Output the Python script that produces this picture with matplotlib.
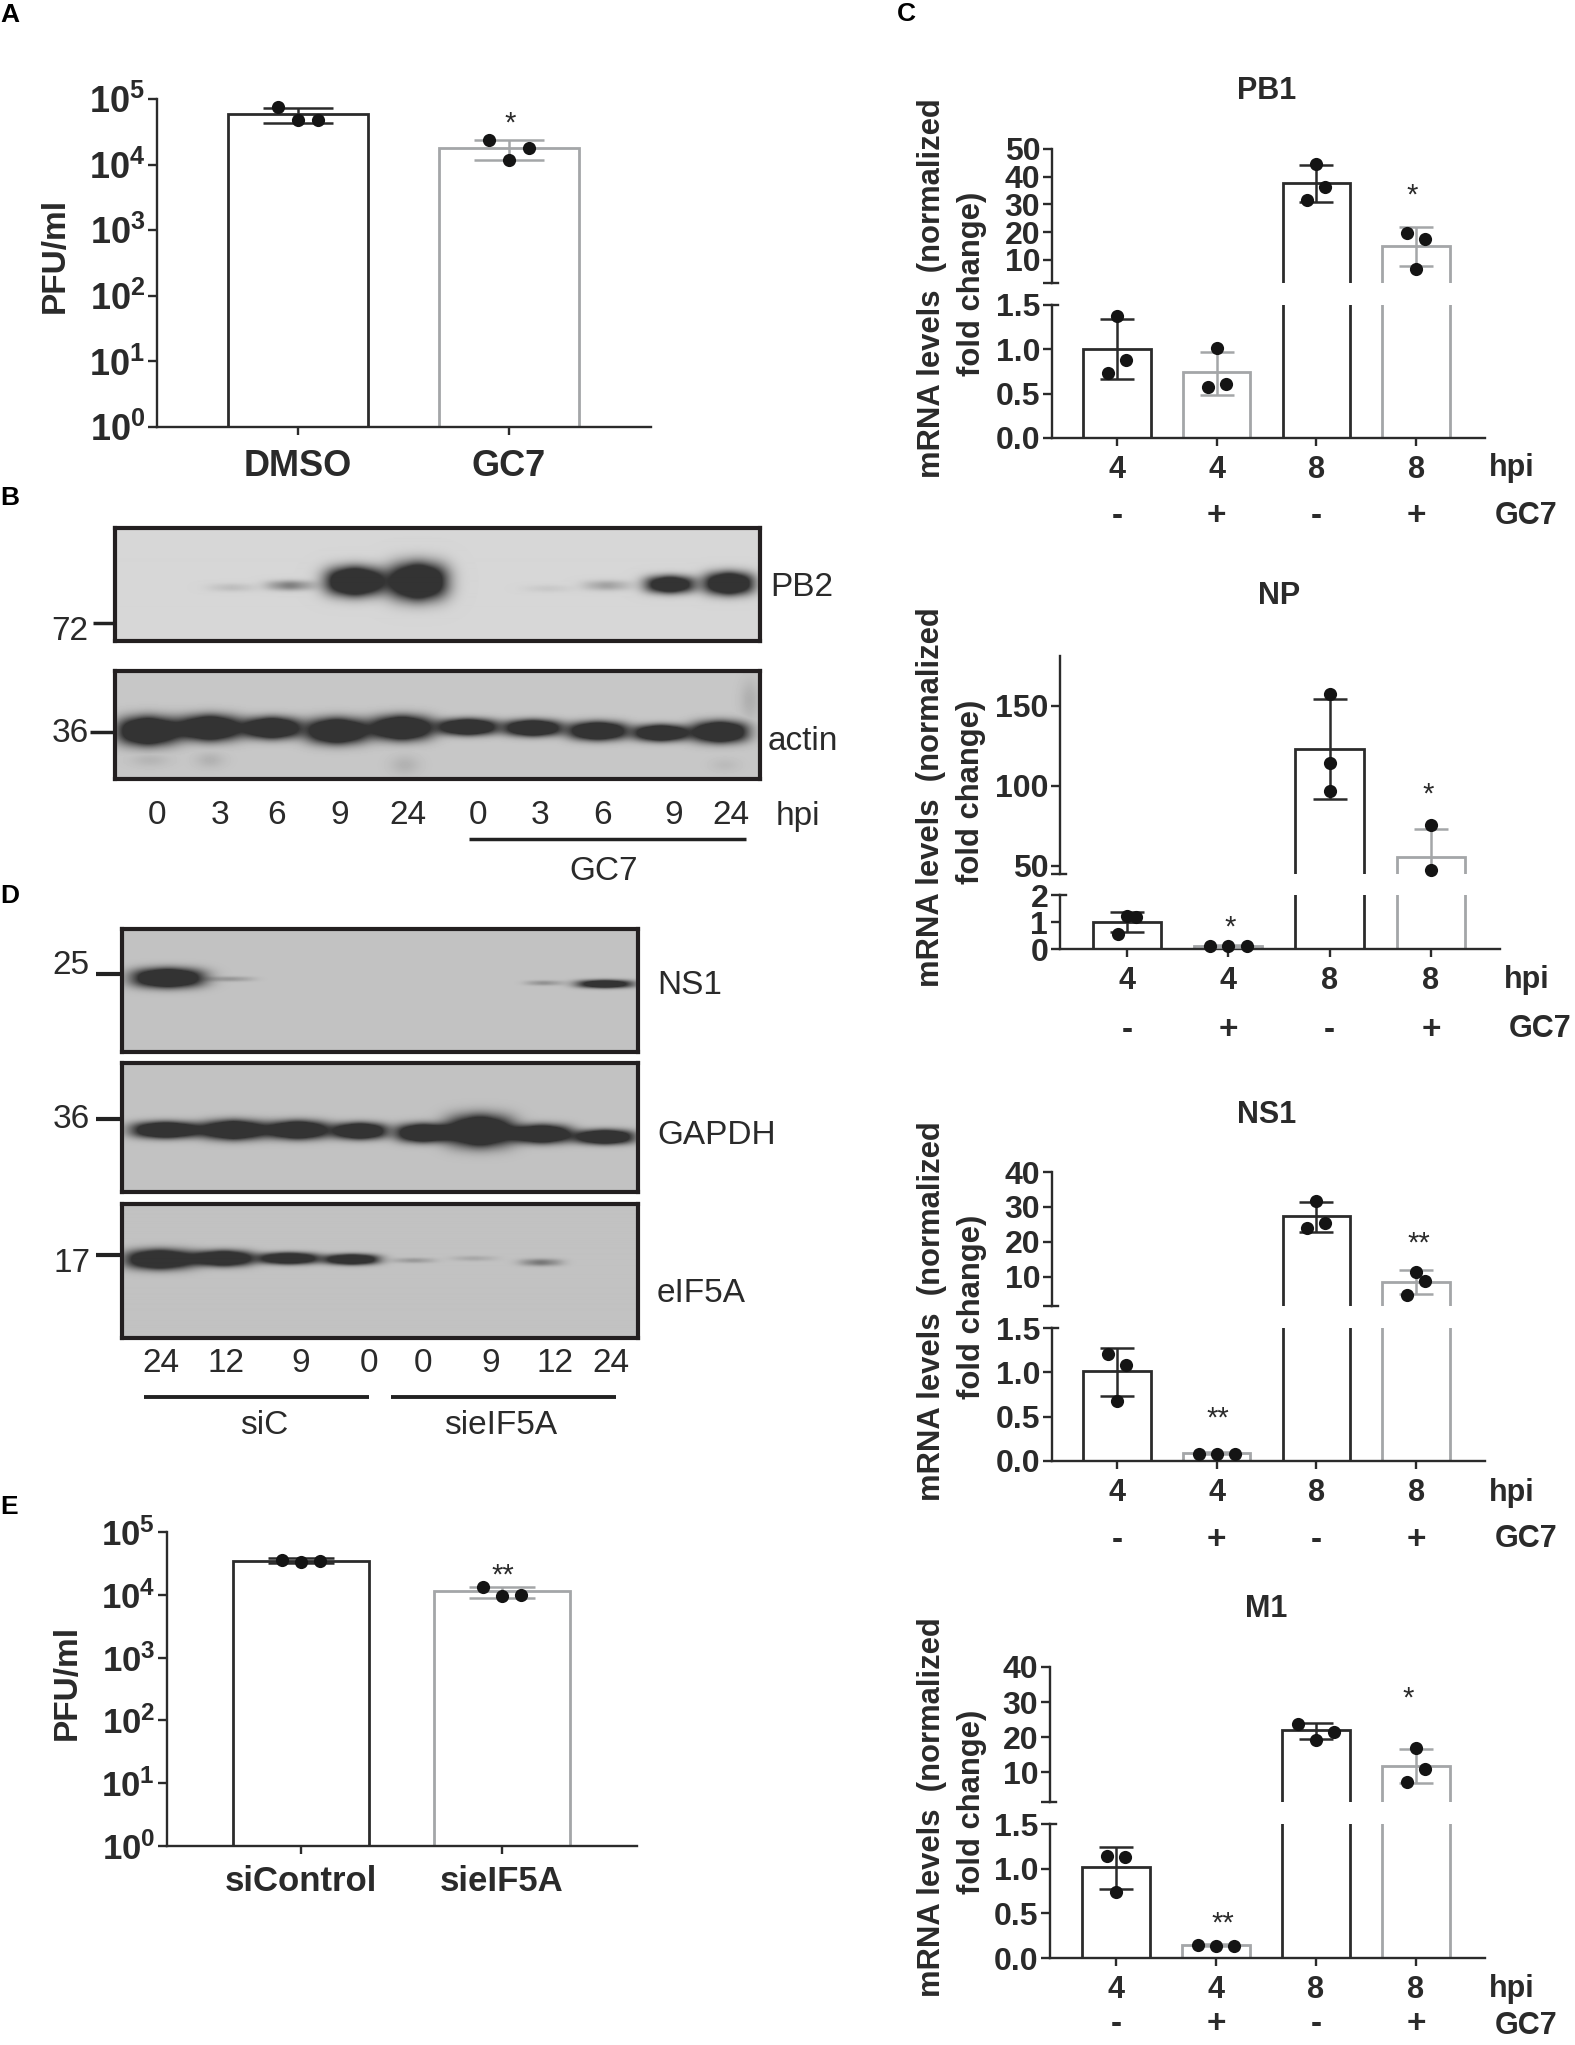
import matplotlib
matplotlib.use("Agg")
import matplotlib.pyplot as plt
import numpy as np

plt.rcParams["font.family"] = ["Liberation Sans", "DejaVu Sans"]
plt.rcParams["mathtext.fontset"] = "custom"
plt.rcParams["mathtext.bf"] = "Liberation Sans:bold"
plt.rcParams["mathtext.rm"] = "Liberation Sans"

W, H = 1575, 2045
DARK = "#2b2b2b"
GREY = "#a4a6a8"
TEXT = "#2a2a2a"

# Panel A
a_labels = ["DMSO", "GC7"]
a_means = [5.9e4, 1.8e4]
a_lo = [4.3e4, 1.17e4]
a_hi = [7.4e4, 2.4e4]
a_points = [[7.5e4, 4.8e4, 4.8e4], [2.4e4, 1.8e4, 1.17e4]]
a_slots = [[-1, 0, 1], [-1, 1, 0]]

# Panel E
e_labels = ["siControl", "sieIF5A"]
e_means = [3.5e4, 1.15e4]
e_lo = [3.2e4, 9.0e3]
e_hi = [3.8e4, 1.33e4]
e_points = [[3.6e4, 3.35e4, 3.4e4], [1.33e4, 9.7e3, 1.0e4]]
e_slots = [[-1, 0, 1], [-1, 0, 1]]

# Panel C
hpi_labels = ["4", "4", "8", "8"]
gc7_signs = ["-", "+", "-", "+"]

pb1_means = [1.0, 0.74, 37.8, 15.0]
pb1_lo = [0.665, 0.49, 30.8, 7.9]
pb1_hi = [1.34, 0.975, 44.2, 21.9]
pb1_points = [[1.38, 0.88, 0.73], [1.016, 0.57, 0.605], [44.6, 36.4, 31.5], [19.8, 17.6, 6.8]]
pb1_slots = [[0, 1, -1], [0, -1, 1], [0, 1, -1], [-1, 1, 0]]

np_means = [1.01, 0.12, 123.2, 55.8]
np_lo = [0.62, 0.08, 91.7, 39.0]
np_hi = [1.38, 0.16, 153.9, 72.8]
np_points = [[1.23, 1.17, 0.54], [0.1, 0.1, 0.1], [157.5, 114.5, 96.9], [75.5, 47.5]]
np_slots = [[0, 1, -1], [-2, 0, 2], [0, 0, 0], [0, 0]]

ns1_means = [1.01, 0.09, 27.4, 8.6]
ns1_lo = [0.733, 0.08, 22.8, 5.0]
ns1_hi = [1.27, 0.1, 31.3, 11.8]
ns1_points = [[1.21, 1.084, 0.68], [0.083, 0.083, 0.083], [31.8, 25.5, 24.0], [11.4, 8.85, 4.75]]
ns1_slots = [[-1, 1, 0], [-2, 0, 2], [0, 1, -1], [0, 1, -1]]

m1_means = [1.015, 0.15, 22.0, 11.9]
m1_lo = [0.776, 0.13, 19.6, 6.9]
m1_hi = [1.24, 0.16, 24.0, 16.6]
m1_points = [[1.138, 1.13, 0.735], [0.15, 0.13, 0.138], [23.9, 19.3, 21.4], [16.9, 11.0, 7.2]]
m1_slots = [[-1, 1, 0], [-2, 0, 2], [-2, 0, 2], [0, 1, -1]]

# Western blots, x / y / width / height in image pixels, then strength
pb2_bands = [(232, 588, 46, 8, 0.07), (290, 586, 46, 10, 0.25), (355, 582, 56, 28, 1.0), (418, 582, 56, 36, 1.0),
             (548, 589, 46, 7, 0.04), (607, 586, 46, 10, 0.15), (670, 585, 48, 17, 0.85), (729, 584, 48, 22, 0.95)]
actin_bands = [(148, 731, 59, 28, 1.0), (210, 728, 59, 25, 1.0), (272, 728, 54, 21, 1.0), (337, 731, 59, 25, 1.0),
               (402, 728, 59, 24, 1.0), (468, 727, 56, 16, 1.0), (533, 728, 54, 16, 1.0), (598, 731, 56, 18, 1.0),
               (661, 733, 51, 16, 1.0), (720, 732, 54, 21, 1.0)]
actin_smudges = [(150, 760, 40, 14, 0.12), (210, 760, 30, 16, 0.14), (405, 765, 30, 20, 0.14),
                 (750, 700, 20, 40, 0.16), (725, 765, 30, 14, 0.08)]
ns1_bands = [(168, 978, 69, 19, 1.0), (230, 979, 46, 5, 0.14), (544, 983, 36, 5, 0.16), (605, 984, 54, 8, 0.85)]
gapdh_bands = [(166, 1130, 66, 16, 1.0), (234, 1130, 60, 19, 1.0), (298, 1130, 59, 18, 1.0), (360, 1131, 51, 16, 1.0),
               (423, 1133, 51, 18, 1.0), (480, 1131, 64, 31, 1.0), (542, 1134, 56, 18, 1.0), (605, 1137, 56, 14, 1.0)]
eif5a_bands = [(160, 1260, 66, 19, 1.0), (224, 1259, 56, 15, 1.0), (289, 1259, 56, 11, 1.0), (352, 1260, 51, 10, 1.0),
               (414, 1261, 41, 5, 0.14), (474, 1259, 43, 5, 0.09), (541, 1263, 41, 7, 0.25)]

b_lanes = ["0", "3", "6", "9", "24", "0", "3", "6", "9", "24"]
b_lane_x = [157, 220, 277, 340, 408, 478, 540, 603, 674, 731]
d_lanes = ["24", "12", "9", "0", "0", "9", "12", "24"]
d_lane_x = [161, 226, 301, 369, 423, 491, 555, 611]

fig = plt.figure(figsize=(W / 100, H / 100), dpi=100)


def px_axes(x0, y0, x1, y1):
    return fig.add_axes([x0 / W, 1 - y1 / H, (x1 - x0) / W, (y1 - y0) / H])


def px_text(x, y, s, size=22, weight="normal", ha="center", va="center", rotation=0, color=TEXT):
    # center alignment leaves the glyphs a little high
    if rotation == 0:
        y += 2 if weight == "bold" else 3
    fig.text(x / W, 1 - y / H, s, fontsize=size, fontweight=weight, ha=ha, va=va,
             rotation=rotation, color=color)


def px_line(x0, x1, y0, y1, lw):
    fig.add_artist(plt.Line2D([x0 / W, x1 / W], [1 - y0 / H, 1 - y1 / H], color="#222222", lw=lw,
                              solid_capstyle="butt"))


def draw_bars(ax, means, lo, hi, points, slots, colors, width, cap, step, limits=None):
    x = np.arange(len(means))
    for i in x:
        # nothing of this bar reaches this part of a broken axis
        if limits is not None and means[i] < limits[0] and hi[i] < limits[0]:
            continue
        ax.bar(i, means[i], width=width, facecolor="white", edgecolor=colors[i], linewidth=2.0, zorder=2)
        if limits is None or lo[i] < limits[1]:
            ax.errorbar(i, means[i], yerr=[[means[i] - lo[i]], [hi[i] - means[i]]], color=colors[i],
                        elinewidth=1.8, capsize=cap, capthick=1.8, zorder=3)
        ys = np.array(points[i])
        xs = i + np.array(slots[i]) * step
        if limits is not None:
            keep = (ys >= limits[0]) & (ys <= limits[1])
            xs, ys = xs[keep], ys[keep]
        ax.scatter(xs, ys, s=90, color="#141414", zorder=4, clip_on=False, linewidths=0)


def style_axis(ax, bottom=True):
    ax.spines["top"].set_visible(False)
    ax.spines["right"].set_visible(False)
    ax.spines["left"].set_linewidth(1.7)
    ax.spines["left"].set_color(DARK)
    ax.spines["bottom"].set_linewidth(1.7)
    ax.spines["bottom"].set_color(DARK)
    ax.spines["bottom"].set_visible(bottom)
    ax.tick_params(axis="y", length=6.5, width=1.7, color=DARK, pad=2, labelsize=23, labelcolor=TEXT)
    ax.tick_params(axis="x", length=6, width=1.7, color=DARK, pad=6, labelsize=22, labelcolor=TEXT)
    ax.patch.set_alpha(0)


def log_panel(rect, c0, step, labels, means, lo, hi, points, slots, width, cap, lab_size, x_pad):
    ax = px_axes(*rect)
    ax.set_xlim((rect[0] - c0) / step, (rect[2] - c0) / step)
    ax.set_yscale("log")
    ax.set_ylim(1, 1e5)
    draw_bars(ax, means, lo, hi, points, slots, [DARK, GREY], width, cap, 0.095)
    style_axis(ax)
    ax.set_yticks([10.0 ** n for n in range(6)])
    ax.set_yticklabels([f"$\\mathbf{{10^{{{n}}}}}$" for n in range(6)], fontsize=lab_size)
    ax.minorticks_off()
    ax.set_xticks(range(len(labels)))
    ax.set_xticklabels(labels, fontsize=lab_size, fontweight="bold")
    ax.tick_params(axis="x", pad=x_pad)
    return ax


def broken_panel(title, x_rng, c0, step, up_box, low_box, up_lim, low_lim, up_ticks, low_ticks, low_fmt,
                 means, lo, hi, points, slots, title_xy, label_x, label_y, sign_y, hpi_xy, gc7_xy):
    colors = [DARK, GREY, DARK, GREY]
    width = 0.675
    cap = 12
    xlim = ((x_rng[0] - c0) / step, (x_rng[1] - c0) / step)
    up = px_axes(x_rng[0], up_box[0], x_rng[1], up_box[1])
    low = px_axes(x_rng[0], low_box[0], x_rng[1], low_box[1])
    up.set_ylim(*up_lim)
    low.set_ylim(*low_lim)
    draw_bars(up, means, lo, hi, points, slots, colors, width, cap, 0.09, up_lim)
    draw_bars(low, means, lo, hi, points, slots, colors, width, cap, 0.09, low_lim)
    for ax in (up, low):
        ax.set_xlim(*xlim)
    style_axis(up, bottom=False)
    style_axis(low)
    up.set_xticks([])
    up.set_yticks(list(up_ticks) + [up_lim[0]])
    up.set_yticklabels([str(t) for t in up_ticks] + [""], fontweight="bold")
    low.set_yticks(low_ticks)
    low.set_yticklabels([low_fmt.format(t) for t in low_ticks], fontweight="bold")
    low.set_xticks(range(4))
    low.set_xticklabels(hpi_labels, fontweight="bold")
    # the two ends at the axis break stick out on the right as well
    width_px = x_rng[1] - x_rng[0]
    up.plot([0, 6 / width_px], [up_lim[0], up_lim[0]], color=DARK, lw=1.7, clip_on=False,
            transform=up.get_yaxis_transform())
    low.plot([0, 6 / width_px], [low_lim[1], low_lim[1]], color=DARK, lw=1.7, clip_on=False,
             transform=low.get_yaxis_transform())
    for i, s in enumerate(gc7_signs):
        low.annotate(s, (i, 0), xycoords=("data", "axes fraction"), xytext=(0, -(sign_y + 3 - low_box[1]) * 0.72),
                     textcoords="offset points", ha="center", va="center", fontsize=24, fontweight="bold", color=TEXT)
    px_text(title_xy[0], title_xy[1], title, weight="bold")
    px_text(label_x, label_y[0], "mRNA levels  (normalized", size=22.3, weight="bold", rotation=90)
    px_text(label_x + 40, label_y[1], "fold change)", size=22.3, weight="bold", rotation=90)
    px_text(hpi_xy[0], hpi_xy[1], "hpi", weight="bold")
    px_text(gc7_xy[0], gc7_xy[1], "GC7", weight="bold")


def blot(x0, y0, x1, y1, bands, bg, smudges=()):
    xx, yy = np.meshgrid(np.arange(x0, x1) + 0.5, np.arange(y0, y1) + 0.5)
    dark = np.zeros_like(xx)
    for (cx, cy, w, h, a) in bands:
        # two lobes side by side give the waist seen in the lanes
        for shift in (-0.2, 0.2):
            d = (np.abs(xx - cx - shift * w) / (0.36 * w)) ** 2.4 + (np.abs(yy - cy) / (0.5 * h)) ** 2.4
            dark += 1.35 * a * np.exp(-d)
    dark = np.clip(dark, 0, 1)
    for (cx, cy, w, h, a) in smudges:
        d = ((xx - cx) / (0.5 * w)) ** 2 + ((yy - cy) / (0.5 * h)) ** 2
        dark = np.maximum(dark, a * np.exp(-d))
    img = bg - (bg - 0.2) * dark
    ax = px_axes(x0, y0, x1, y1)
    ax.imshow(img, cmap="gray", vmin=0, vmax=1, aspect="auto", interpolation="bilinear")
    ax.set_xticks([])
    ax.set_yticks([])
    for s in ax.spines.values():
        s.set_linewidth(3.0)
        s.set_color("#231f20")


# A
log_panel((157, 99, 651, 427), 298, 211, a_labels, a_means, a_lo, a_hi, a_points, a_slots, 0.668, 25, 26, 10)
px_text(510, 121, "*", size=21)
px_text(55, 255, "PFU/ml", size=24, weight="bold", rotation=90)

# B
blot(115, 528, 760, 641, pb2_bands, 0.84)
blot(115, 671, 760, 779, actin_bands, 0.78, actin_smudges)
px_line(93, 113, 623, 623, 2.5)
px_line(90, 113, 732, 732, 2.5)
px_text(70, 628, "72", size=24)
px_text(70, 730, "36", size=24)
px_text(770, 585, "PB2", size=24, ha="left")
px_text(768, 738, "actin", size=24, ha="left")
for x, s in zip(b_lane_x, b_lanes):
    px_text(x, 813, s, size=24)
px_text(798, 813, "hpi", size=24)
px_line(469, 746, 839, 839, 2.5)
px_text(604, 869, "GC7", size=24)

# D
blot(122, 929, 638, 1052, ns1_bands, 0.76)
blot(122, 1063, 638, 1192, gapdh_bands, 0.76)
blot(122, 1204, 638, 1338, eif5a_bands, 0.76)
px_line(96, 120, 974, 974, 3)
px_line(96, 120, 1119, 1119, 3)
px_line(96, 120, 1255, 1255, 3)
px_text(71, 962, "25", size=24)
px_text(71, 1116, "36", size=24)
px_text(72, 1260, "17", size=24)
px_text(657, 983, "NS1", size=24, ha="left")
px_text(657, 1132, "GAPDH", size=24, ha="left")
px_text(657, 1291, "eIF5A", size=24, ha="left")
for x, s in zip(d_lane_x, d_lanes):
    px_text(x, 1361, s, size=24)
px_line(144, 369, 1397, 1397, 2.8)
px_line(391, 616, 1397, 1397, 2.8)
px_text(264, 1423, "siC", size=24)
px_text(501, 1423, "sieIF5A", size=24)

# E
log_panel((167, 1532, 637, 1846), 301, 201, e_labels, e_means, e_lo, e_hi, e_points, e_slots, 0.676, 24, 25, 8)
px_text(503, 1573, "**", size=21)
px_text(67, 1682, "PFU/ml", size=24, weight="bold", rotation=90)

# C
broken_panel("PB1", (1052, 1485), 1117, 99.7, (149, 283), (305, 438), (1.6, 50), (0, 1.5),
             [10, 20, 30, 40, 50], [0.0, 0.5, 1.0, 1.5], "{:.1f}",
             pb1_means, pb1_lo, pb1_hi, pb1_points, pb1_slots,
             (1267, 89), 932, (288, 284), 514, (1512, 466), (1526, 514))
px_text(1412, 193, "*", size=21)

broken_panel("NP", (1060, 1500), 1127, 101.3, (656, 874), (895, 949), (45, 181), (0, 2),
             [50, 100, 150], [0, 1, 2], "{:d}",
             np_means, np_lo, np_hi, np_points, np_slots,
             (1279, 594), 931, (797, 792), 1027, (1527, 978), (1540, 1027))
px_text(1230, 925, "*", size=21)
px_text(1428, 792, "*", size=21)

broken_panel("NS1", (1052, 1485), 1117, 99.7, (1172, 1306), (1328, 1461), (1.6, 40), (0, 1.5),
             [10, 20, 30, 40], [0.0, 0.5, 1.0, 1.5], "{:.1f}",
             ns1_means, ns1_lo, ns1_hi, ns1_points, ns1_slots,
             (1267, 1113), 932, (1311, 1307), 1537, (1512, 1491), (1526, 1537))
px_text(1218, 1416, "**", size=21)
px_text(1419, 1241, "**", size=21)

# bottom row sits just inside the page edge
broken_panel("M1", (1050, 1485), 1116, 100, (1667, 1802), (1824, 1958), (1.55, 40), (0, 1.5),
             [10, 20, 30, 40], [0.0, 0.5, 1.0, 1.5], "{:.1f}",
             m1_means, m1_lo, m1_hi, m1_points, m1_slots,
             (1266, 1607), 932, (1807, 1802), 2021, (1512, 1987), (1526, 2024))
px_text(1223, 1921, "**", size=21)
px_text(1408, 1696, "*", size=21)

# panel letters
for letter, x, y in [("A", 0, 13), ("B", 0, 496), ("C", 897, 12), ("D", 0, 894), ("E", 0, 1505)]:
    px_text(x, y, letter, size=19, weight="bold", ha="left", color="black")

fig.savefig("out.png", dpi=100, facecolor="white")
